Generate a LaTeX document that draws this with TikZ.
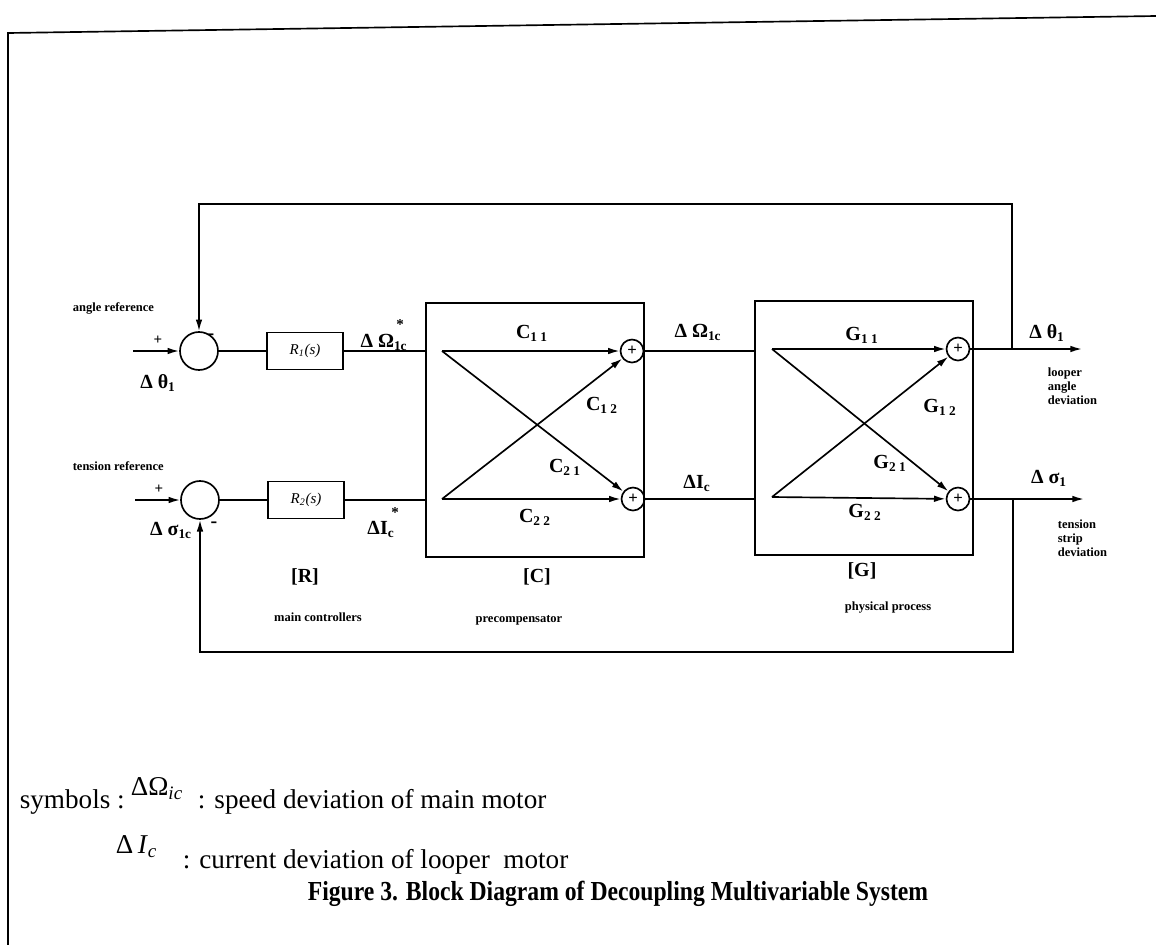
\documentclass[tikz,border=0pt]{standalone}
\usepackage{fontspec,graphicx}
\setmainfont{Liberation Serif}
\usetikzlibrary{arrows.meta,positioning}

\begin{document}
\begin{tikzpicture}[x=0.6pt,y=-0.6pt,>={Latex[length=7pt,width=4pt]},line width=1pt,
  every node/.style={font=\bfseries\fontsize{12}{14}\selectfont,inner sep=0pt},
  sumc/.style={draw,circle,minimum size=22.8pt},
  plus/.style={draw,circle,minimum size=13.8pt,font=\bfseries\fontsize{10}{10}\selectfont},
  blk/.style={draw,minimum width=45.6pt,minimum height=22.2pt,font=\itshape\fontsize{9}{10}\selectfont},
  mat/.style={draw,minimum width=131pt,minimum height=152.4pt},
  tiny/.style={font=\bfseries\fontsize{7.5}{8.5}\selectfont,align=left},
  body/.style={font=\fontsize{16.3}{18}\selectfont,anchor=base west}]
\useasboundingbox (0,0) rectangle (1156,945);
\draw (8,945) -- (8,33) -- (1156,16);

% controllers
\node[sumc] (s1) at (199,351) {};
\node[blk] (r1) at (305,351) {R\textsubscript{1}(s)};
\node[sumc] (s2) at (200,500) {};
\node[blk] (r2) at (306,500) {R\textsubscript{2}(s)};
\coordinate (in1) at (133,351);
\coordinate (in2) at (135,500);
\draw[->] (in1) -- (s1);
\draw[->] (in2) -- (s2);
\draw (s1) -- (r1);
\draw (s2) -- (r2);

% precompensator and process
\node[mat] (cb) at (535,430) {};
\node[mat] (gb) at (864,428) {};
\node[plus] (cp1) at (632,351) {+};
\node[plus] (cp2) at (633,499) {+};
\node[plus] (gp1) at (958,349) {+};
\node[plus] (gp2) at (958,499) {+};
\coordinate (ci1) at (442,351);
\coordinate (ci2) at (442,499);
\coordinate (gi1) at (772,349);
\coordinate (gi2) at (772,497);
\draw (r1) -- (cb.west |- r1);
\draw (r2) -- (cb.west |- r2);
\draw[->] (ci1) -- (cp1);
\draw[->] (ci1) -- (cp2);
\draw[->] (ci2) -- (cp1);
\draw[->] (ci2) -- (cp2);
\draw (cp1) -- (gb.west |- cp1);
\draw (cp2) -- (gb.west |- cp2);
\draw[->] (gi1) -- (gp1);
\draw[->] (gi1) -- (gp2);
\draw[->] (gi2) -- (gp1);
\draw[->] (gi2) -- (gp2);

% outputs and feedback
\coordinate (out1) at (1082,349);
\coordinate (out2) at (1084,499);
\coordinate (j1) at (1012,349);
\coordinate (j2) at (1013,499);
\draw[->] (gp1) -- (out1);
\draw[->] (gp2) -- (out2);
\draw[->] (j1) -- ++(0,-145) -| (s1);
\draw[->] (j2) -- ++(0,153) -| (s2);

% labels
\node[tiny,anchor=west] (aref) at (72,308) {angle reference};
\node[tiny,anchor=west] (tref) at (72,466) {tension reference};
\node (p1) at (158,340) {\fontsize{9}{9}\selectfont +};
\node (p2) at (159,489) {\fontsize{9}{9}\selectfont +};
\node (m1) at (211,337) {-};
\node (m2) at (214,525) {-};
\node (th1) at (158,383) {Δ θ\textsubscript{1}};
\node (sg1) at (171,530) {Δ σ\textsubscript{1c}};
\node (om1) at (384,342) {Δ Ω\textsubscript{1c}};
\node (st1) at (400,325) {\fontsize{9}{9}\selectfont *};
\node (ic1) at (381,529) {ΔI\textsubscript{c}};
\node (st2) at (395,513) {\fontsize{9}{9}\selectfont *};
\node (c11) at (532,333) {C\textsubscript{1 1}};
\node (c12) at (602,405) {C\textsubscript{1 2}};
\node (c21) at (565,467) {C\textsubscript{2 1}};
\node (c22) at (535,517) {C\textsubscript{2 2}};
\node (om2) at (698,332) {Δ Ω\textsubscript{1c}};
\node (ic2) at (697,483) {ΔI\textsubscript{c}};
\node (g11) at (862,335) {G\textsubscript{1 1}};
\node (g12) at (940,407) {G\textsubscript{1 2}};
\node (g21) at (890,463) {G\textsubscript{2 1}};
\node (g22) at (865,512) {G\textsubscript{2 2}};
\node (th2) at (1047,333) {Δ θ\textsubscript{1}};
\node (sg2) at (1049,478) {Δ σ\textsubscript{1}};
\node[tiny,anchor=north west] (lad) at (1047,367) {looper\\angle\\deviation};
\node[tiny,anchor=north west] (tsd) at (1057,519) {tension\\strip\\deviation};
\node (rr) at (305,577) {[R]};
\node (cc) at (537,577) {[C]};
\node (gg) at (862,571) {[G]};
\node[tiny] (mc) at (318,617) {main controllers};
\node[tiny] (pc) at (519,620) {precompensator};
\node[tiny] (pp) at (888,608) {physical process};

% symbols
\node[body] (sym) at (19,808) {symbols :};
\node[body] (sy1) at (130,795) {ΔΩ\textsubscript{\itshape ic}};
\node[body] (sd1) at (197,808) {: speed deviation of main motor};
\node[body] (sy2) at (115,853) {Δ\,\textit{I}\textsubscript{\itshape c}};
\node[body] (sd2) at (182,868) {: current deviation of looper\ \ motor};
\node[body,font=\bfseries\fontsize{16.5}{18}\selectfont,anchor=base] (fig) at (618,900) {\scalebox{0.86}[1]{Figure 3. Block Diagram of Decoupling Multivariable System}};
\end{tikzpicture}
\end{document}
